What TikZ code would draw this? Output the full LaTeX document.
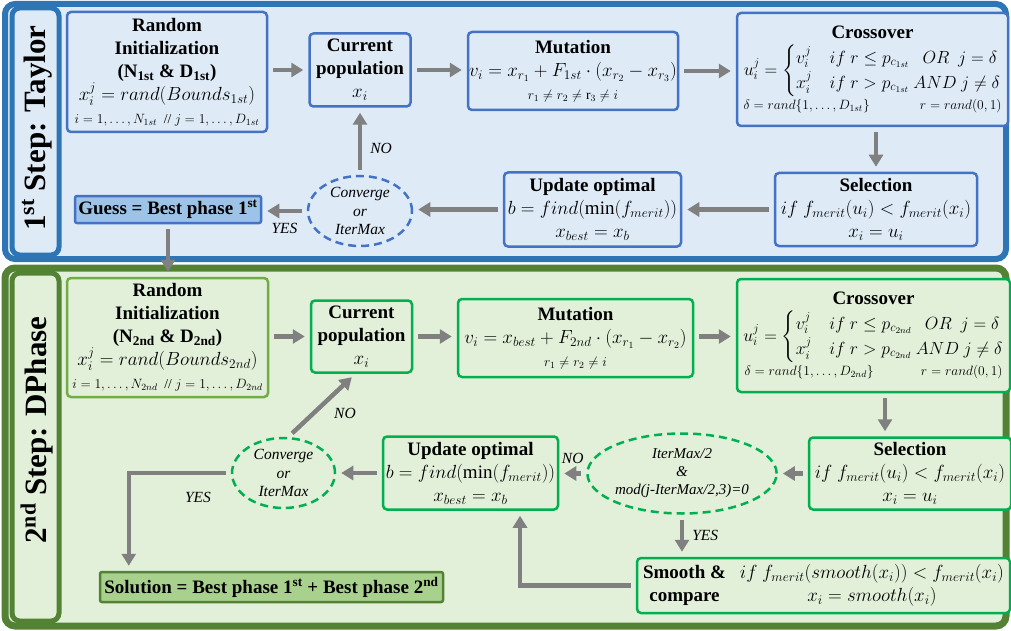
\RequirePackage{fix-cm}
\documentclass[tikz,border=0pt]{standalone}
\usepackage{amsmath}
\usepackage{fontspec}
\setmainfont{Liberation Serif}
\usetikzlibrary{shapes.geometric,arrows.meta}
\definecolor{bgblue}{HTML}{DEEBF7}
\definecolor{panelblue}{HTML}{2E75B6}
\definecolor{boxblue}{HTML}{4472C4}
\definecolor{guessfill}{HTML}{9DC3E6}
\definecolor{bggreen}{HTML}{E2F0D9}
\definecolor{panelgreen}{HTML}{548235}
\definecolor{boxgreen}{HTML}{00B050}
\definecolor{initgreen}{HTML}{70AD47}
\definecolor{solfill}{HTML}{A9D18E}
\definecolor{arrgray}{HTML}{808080}
\newcommand{\sm}{\fontsize{13.5}{16}\selectfont}
\newcommand{\cx}{\fontsize{17.6}{21}\selectfont}
\begin{document}
\begin{tikzpicture}[x=1pt,y=-1pt,
  box/.style={rounded corners=4pt, line width=2.5pt, align=center, inner sep=1pt,
    font=\fontsize{19}{23}\selectfont},
  bbox/.style={box, draw=boxblue, fill=bgblue},
  gbox/.style={box, draw=boxgreen, fill=bggreen},
  ell/.style={ellipse, line width=2.5pt, dash pattern=on 8pt off 5pt, inner sep=0pt,
    align=center, font=\fontsize{15.5}{18.5}\selectfont\itshape},
  arr/.style={draw=arrgray, line width=4.5pt, line join=miter,
    -{Triangle[length=12pt,width=14pt]}, shorten <=5pt, shorten >=5pt},
  lbl/.style={font=\fontsize{15.5}{18}\selectfont\itshape, inner sep=0pt},
  side/.style={rotate=90, font=\fontsize{31}{31}\selectfont\bfseries, inner sep=0pt}]
\useasboundingbox (0,0) rectangle (1011,631);
% panels
\draw[panelblue, line width=6pt, fill=bgblue, rounded corners=10pt] (5,4) rectangle (1006,259);
\draw[panelblue, line width=5pt, fill=bgblue, rounded corners=8pt] (12,8) rectangle (59,255);
\node[side] (t1) at (37,128) {1\textsuperscript{st} Step: Taylor};
\draw[panelgreen, line width=7pt, fill=bggreen, rounded corners=10pt] (5,268) rectangle (1006,626);
\draw[panelgreen, line width=5pt, fill=bggreen, rounded corners=8pt] (12,273) rectangle (59,621);
\node[side] (t2) at (37,430) {2\textsuperscript{nd} Step: DPhase};

% top nodes
\node[bbox, minimum width=200pt, minimum height=120pt] (init1) at (167,72)
  {\textbf{Random}\\\textbf{Initialization}\\\textbf{(N\textsubscript{1st} \& D\textsubscript{1st})}\\
   $x_i^j = rand(Bounds_{1st})$\\
   {\sm $i=1,\ldots,N_{1st}$\ \ // $j=1,\ldots,D_{1st}$}};
\node[bbox, minimum width=101pt, minimum height=73pt] (cur1) at (360,70)
  {\textbf{Current}\\\textbf{population}\\$x_i$};
\node[bbox, minimum width=210pt, minimum height=78pt] (mut1) at (573,71)
  {\textbf{Mutation}\\$v_i = x_{r_1} + F_{1st}\cdot\left(x_{r_2}-x_{r_3}\right)$\\
   {\sm $r_1 \neq r_2 \neq \mathrm{r}_3 \neq i$}};
\node[bbox, minimum width=271pt, minimum height=113pt] (cross1) at (872.5,69.5)
  {\textbf{Crossover}\\[5pt]
   {\cx $u_i^j = \begin{cases} v_i^j & if\ r \le p_{c_{1st}}\ \ \ OR\ \ j=\delta\\ x_i^j & if\ r > p_{c_{1st}}\ AND\ j\neq\delta \end{cases}$}\\[2pt]
   {\sm\makebox[258pt]{$\delta = rand\{1,\ldots,D_{1st}\}$\hfill$r = rand(0,1)$}}};
\node[bbox, minimum width=202pt, minimum height=73pt] (sel1) at (876,209.5)
  {\textbf{Selection}\\$if\ f_{merit}(u_i) < f_{merit}(x_i)$\\$x_i = u_i$};
\node[bbox, minimum width=177pt, minimum height=74pt] (upd1) at (592.5,209.5)
  {\textbf{Update optimal}\\$b = find(\min(f_{merit}))$\\$x_{best} = x_b$};
\node[ell, draw=boxblue, minimum width=104pt, minimum height=70pt] (conv1) at (360,211)
  {Converge\\or\\IterMax};
\node[box, draw=boxblue, fill=guessfill, rounded corners=2pt, minimum width=186pt, minimum height=27pt] (guess) at (168,209.5)
  {\textbf{Guess = Best phase 1\textsuperscript{st}}};

% bottom nodes
\node[box, draw=initgreen, fill=bggreen, minimum width=201pt, minimum height=119pt] (init2) at (167.5,337.5)
  {\textbf{Random}\\\textbf{Initialization}\\\textbf{(N\textsubscript{2nd} \& D\textsubscript{2nd})}\\
   $x_i^j = rand(Bounds_{2nd})$\\
   {\sm $i=1,\ldots,N_{2nd}$\ \ // $j=1,\ldots,D_{2nd}$}};
\node[gbox, minimum width=101pt, minimum height=72pt] (cur2) at (361.5,336.5)
  {\textbf{Current}\\\textbf{population}\\$x_i$};
\node[gbox, minimum width=235pt, minimum height=78pt] (mut2) at (575.5,338)
  {\textbf{Mutation}\\$v_i = x_{best} + F_{2nd}\cdot\left(x_{r_1}-x_{r_2}\right)$\\
   {\sm $r_1 \neq r_2 \neq i$}};
\node[gbox, minimum width=273pt, minimum height=113pt] (cross2) at (873.5,335.5)
  {\textbf{Crossover}\\[5pt]
   {\cx $u_i^j = \begin{cases} v_i^j & if\ r \le p_{c_{2nd}}\ \ \ OR\ \ j=\delta\\ x_i^j & if\ r > p_{c_{2nd}}\ AND\ j\neq\delta \end{cases}$}\\[2pt]
   {\sm\makebox[258pt]{$\delta = rand\{1,\ldots,D_{2nd}\}$\hfill$r = rand(0,1)$}}};
\node[gbox, minimum width=202pt, minimum height=72pt] (sel2) at (910,473.5)
  {\textbf{Selection}\\$if\ f_{merit}(u_i) < f_{merit}(x_i)$\\$x_i = u_i$};
\node[ell, draw=boxgreen, minimum width=160pt, minimum height=80pt,
  font=\fontsize{15}{18}\selectfont\itshape] (iter) at (682,473.5)
  {IterMax/2\\\&\\mod(j-IterMax/2,3)=0};
\node[gbox, minimum width=175pt, minimum height=73pt] (upd2) at (470.5,473)
  {\textbf{Update optimal}\\$b = find(\min(f_{merit}))$\\$x_{best} = x_b$};
\node[ell, draw=boxgreen, minimum width=103pt, minimum height=70pt] (conv2) at (283.5,473)
  {Converge\\or\\IterMax};
\node[gbox, minimum width=373pt, minimum height=55pt] (smooth) at (823.5,585.5)
  {\begin{tabular}{@{}c@{\hspace{14pt}}c@{}}\textbf{Smooth \&} & $if\ f_{merit}(smooth(x_i)) < f_{merit}(x_i)$\\
   \textbf{compare} & $x_i = smooth(x_i)$\end{tabular}};
\node[box, draw=panelgreen, fill=solfill, rounded corners=2pt, minimum width=343pt, minimum height=30pt] (sol) at (271.5,587)
  {\textbf{Solution = Best phase 1\textsuperscript{st} + Best phase 2\textsuperscript{nd}}};

% top arrows
\draw[arr] (init1.east |- cur1.west) -- (cur1.west);
\draw[arr] (cur1.east) -- (cur1.east -| mut1.west);
\draw[arr] (mut1.east) -- (mut1.east -| cross1.west);
\draw[arr] (sel1.north |- cross1.south) -- (sel1.north);
\draw[arr] (sel1.west) -- (sel1.west -| upd1.east);
\draw[arr] (upd1.west) -- (upd1.west -| conv1.east);
\draw[arr] (conv1.north) -- (conv1.north |- cur1.south) node[lbl, pos=0.4, right=8pt] {NO};
\draw[arr] (conv1.west) -- (conv1.west -| guess.east) node[lbl, midway, below=10pt] {YES};
\draw[arr] (guess.south) -- (guess.south |- init2.north);

% bottom arrows
\draw[arr] (init2.east |- cur2.west) -- (cur2.west);
\draw[arr] (cur2.east) -- (cur2.east -| mut2.west);
\draw[arr] (mut2.east |- cur2.east) -- (cur2.east -| cross2.west);
\draw[arr] ([xshift=11.5pt]cross2.south) -- ([xshift=11.5pt]cross2.south |- sel2.north);
\draw[arr] (sel2.west) -- (sel2.west -| iter.east);
\draw[arr] (iter.west) -- (iter.west -| upd2.east) node[lbl, midway, above=8pt] {NO};
\draw[arr] (upd2.west) -- (upd2.west -| conv2.east);
\draw[arr] ([xshift=5pt]conv2.north) -- ([xshift=-6pt]cur2.south);
\node[lbl] (no2) at (345,413) {NO};
\draw[arr] (conv2.west) -| ([xshift=30pt]sol.north west);
\node[lbl] (yes2) at (198,497) {YES};
\draw[arr] (iter.south) -- (iter.south |- smooth.north) node[lbl, midway, right=8pt] {YES};
\draw[arr] (smooth.west) -| ([xshift=49.5pt]upd2.south);
\end{tikzpicture}
\end{document}
